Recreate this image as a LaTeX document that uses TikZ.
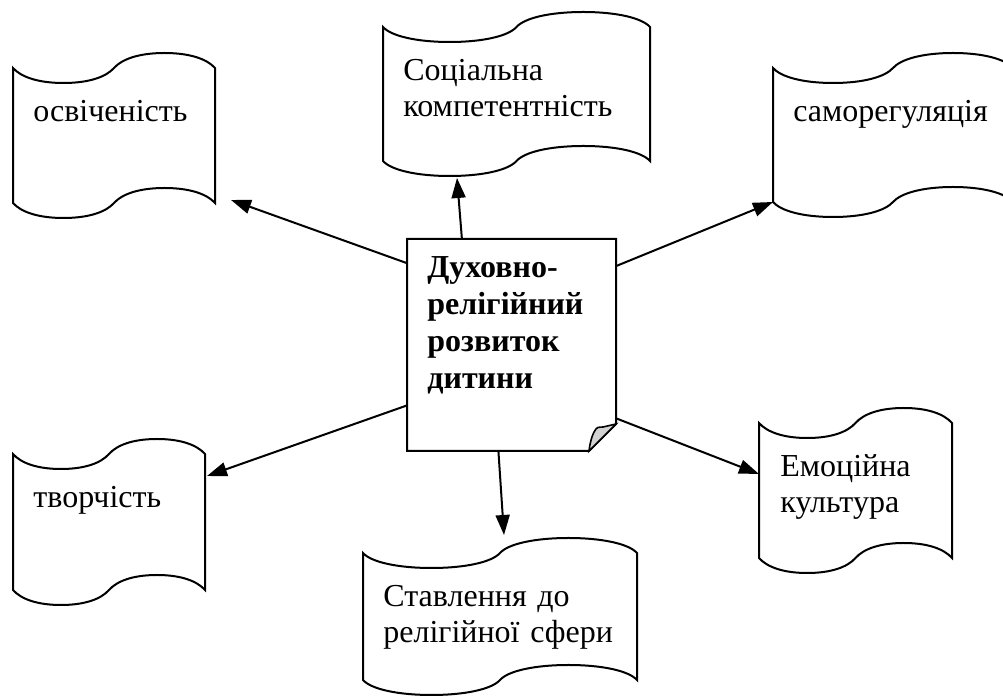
\documentclass[tikz,border=0pt]{standalone}
\usepackage{fontspec}
\setmainfont{Liberation Serif}
\usetikzlibrary{arrows.meta}

\tikzset{
  scroll/.style={line width=1pt},
  tapetext/.style={anchor=base west, inner sep=0pt, align=left, text width=160pt,
    font=\fontsize{16}{17.8}\selectfont},
  arrow/.style={line width=1pt, -{Triangle[length=10pt,width=7pt]}},
}

\begin{document}
\begin{tikzpicture}[x=0.5pt,y=-0.5pt]
	\useasboundingbox (0,0) rectangle (1003,699);
	\clip (0,0) rectangle (1003,699);

	% scrolls: name / left / top / width / height
	\foreach \n/\x/\y/\w/\h in {osv/13/68/202/135, soc/383/27/267/134, sam/773/68/240/134,
	    tvo/13/454/192/136, sta/363/553/274/127, emo/759/423/193/135} {
		\draw[scroll] (\x,\y)
		  .. controls +(8,9) and +(-\w/8,0) .. ++(\w/4,15)
		  .. controls +(\w/8,0) and +(-8,9) .. ++(\w/4,-15)
		  .. controls +(8,-9) and +(-\w/8,0) .. ++(\w/4,-15)
		  .. controls +(\w/8,0) and +(-8,-9) .. ++(\w/4,15)
		  -- ++(0,\h)
		  .. controls +(-8,-9) and +(\w/8,0) .. ++(-\w/4,-15)
		  .. controls +(-\w/8,0) and +(8,-9) .. ++(-\w/4,15)
		  .. controls +(-8,9) and +(\w/8,0) .. ++(-\w/4,15)
		  .. controls +(-\w/8,0) and +(8,9) .. ++(-\w/4,-15) -- cycle;
	}

	\node[tapetext] (osv) at (33,122) {освіченість};
	\node[tapetext] (soc) at (403,81) {Соціальна\\компетентність};
	\node[tapetext] (sam) at (793,122) {саморегуляція};
	\node[tapetext] (tvo) at (33,508) {творчість};
	\node[tapetext] (sta) at (383,607) {Ставлення до\\релігійної сфери};
	\node[tapetext] (emo) at (780,477) {Емоційна\\культура};

	% centre sheet with the turned corner
	\node[inner sep=0pt, minimum width=104.5pt, minimum height=106pt] (sheet) at (511.5,345) {};
	\draw[line width=1pt] (407,239) -- (616,239) -- (616,424) -- (589,451) -- (407,451) -- cycle;
	\filldraw[line width=0.8pt, fill=gray!35] (589,451) .. controls (590,443) and (592,434) .. (596,429)
	  .. controls (598,426) and (601,428) .. (603,427) -- (616,424) -- cycle;
	\node[tapetext, font=\fontsize{16}{18.5}\selectfont\bfseries] (main) at (427,278)
	  {Духовно-\\релігійний\\розвиток\\дитини};

	\coordinate (osv-in) at (231,200);
	\coordinate (soc-in) at (457,178);
	\coordinate (sam-in) at (773,202);
	\coordinate (tvo-in) at (207,476);
	\coordinate (sta-in) at (504,535);
	\coordinate (emo-in) at (759,474);

	\draw[arrow] (sheet.142.6) -- (osv-in);
	\draw[arrow] (sheet.115.5) -- (soc-in);
	\draw[arrow] (sheet.37.4) -- (sam-in);
	\draw[arrow] (sheet.210.7) -- (tvo-in);
	\draw[arrow] (sheet.263.8) -- (sta-in);
	\draw[arrow] (sheet.325.1) -- (emo-in);
\end{tikzpicture}
\end{document}
